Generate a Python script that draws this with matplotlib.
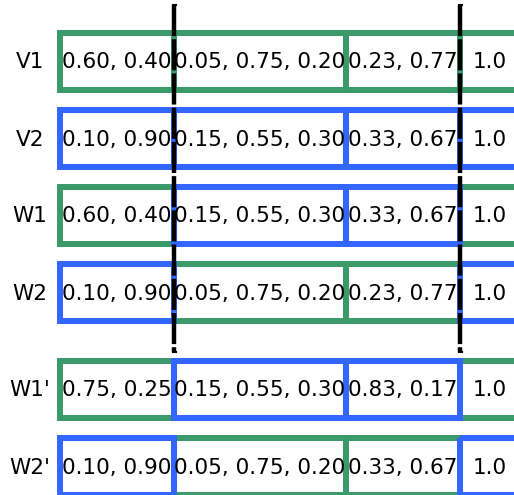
#!/usr/bin/env python3
import matplotlib
matplotlib.use('Agg')
import matplotlib.pyplot as plt
from matplotlib.patches import Rectangle

row_labels = ['V1', 'V2', 'W1', 'W2', "W1'", "W2'"]

cell_text = [
    ['0.60, 0.40', '0.05, 0.75, 0.20', '0.23, 0.77', '1.0'],
    ['0.10, 0.90', '0.15, 0.55, 0.30', '0.33, 0.67', '1.0'],
    ['0.60, 0.40', '0.15, 0.55, 0.30', '0.33, 0.67', '1.0'],
    ['0.10, 0.90', '0.05, 0.75, 0.20', '0.23, 0.77', '1.0'],
    ['0.75, 0.25', '0.15, 0.55, 0.30', '0.83, 0.17', '1.0'],
    ['0.10, 0.90', '0.05, 0.75, 0.20', '0.33, 0.67', '1.0'],
]

# 0 = green group, 1 = blue group
cell_group = [
    [0, 0, 0, 0],
    [1, 1, 1, 1],
    [0, 1, 1, 0],
    [1, 0, 0, 1],
    [0, 1, 1, 0],
    [1, 0, 0, 1],
]

# columns where the dashed separators sit (edge index)
split_edges = [1, 3]

group_colors = ['#3a9a6a', '#3366ff']


def main():
    fig = plt.figure(figsize=(5.14, 4.95), dpi=100)
    ax = fig.add_axes([0, 0, 1, 1])
    ax.set_xlim(0, 514)
    ax.set_ylim(495, 0)
    ax.axis('off')

    col_edges = [60, 174, 346, 460, 520]
    row_height = 57
    row_tops = [33 + 77 * i + (20 if i >= 4 else 0) for i in range(len(row_labels))]

    # green first, blue drawn over it where borders are shared
    for grp in [0, 1]:
        for r, top in enumerate(row_tops):
            for c in range(len(cell_text[r])):
                if cell_group[r][c] != grp:
                    continue
                x0, x1 = col_edges[c], col_edges[c + 1]
                ax.add_patch(Rectangle((x0, top), x1 - x0, row_height,
                                       fill=False, lw=4.3,
                                       edgecolor=group_colors[grp],
                                       zorder=2 + grp, clip_on=True))

    for r, top in enumerate(row_tops):
        yc = top + row_height / 2 + 1
        ax.text(30, yc, row_labels[r], ha='center', va='center', fontsize=15.5)
        for c, txt in enumerate(cell_text[r]):
            xc = (col_edges[c] + col_edges[c + 1]) / 2
            ax.text(xc, yc, txt, ha='center', va='center', fontsize=15.5,
                    zorder=5)

    for e in split_edges:
        x = col_edges[e]
        ax.plot([x, x], [5, 352], color='black', lw=3.2,
                linestyle=(0, (7, 0.7)), zorder=6)
        ax.plot([x - 1, x + 1.5], [5, 5], color='black', lw=1.5, zorder=6)
        ax.plot([x - 1, x + 1.5], [352, 352], color='black', lw=1.5, zorder=6)

    fig.savefig('out.png', dpi=100)


if __name__ == '__main__':
    main()
